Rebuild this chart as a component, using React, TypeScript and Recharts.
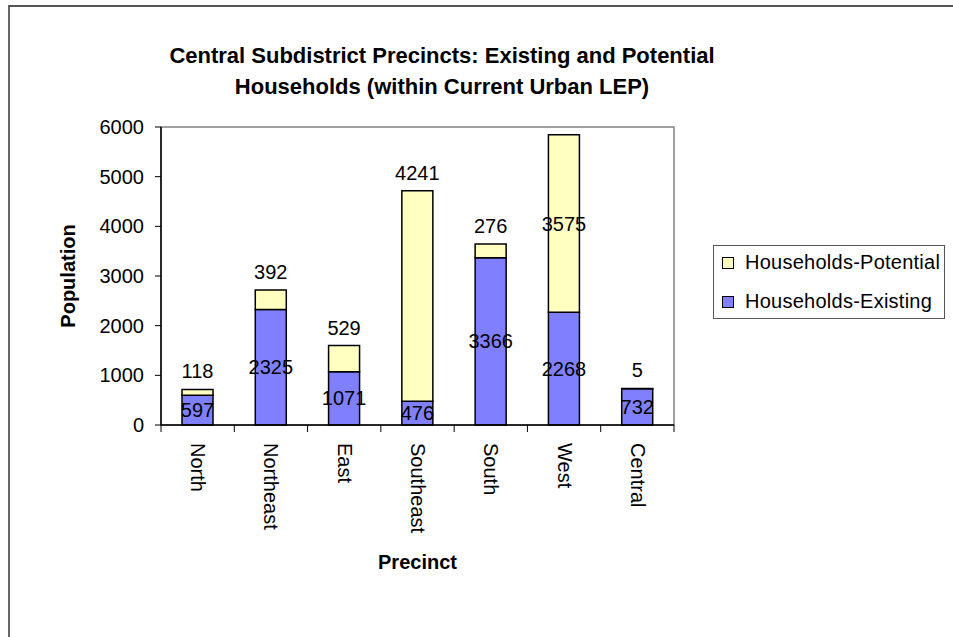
import React from 'react';
import { BarChart, Bar, XAxis, YAxis, Legend, LabelList, ReferenceArea } from 'recharts';

const precincts = ['North', 'Northeast', 'East', 'Southeast', 'South', 'West', 'Central'];
const existing = [597, 2325, 1071, 476, 3366, 2268, 732];
const potential = [118, 392, 529, 4241, 276, 3575, 5];
const yTicks = [0, 1000, 2000, 3000, 4000, 5000, 6000];

const data = precincts.map((name, i) => ({ name, existing: existing[i], potential: potential[i] }));

const FONT = '"Liberation Sans", Arial, sans-serif';
const PLOT_TOP = 127;

// rotated category label plus the boundary tick marks between categories
const CategoryTick = (props: any) => {
    const { x, y, payload, index } = props;
    const half = payload && payload.offset ? payload.offset : 36.65;
    const last = index === precincts.length - 1;
    return (
        <g>
            <line x1={x - half} x2={x - half} y1={y} y2={y + 7} stroke="#000" />
            {last && <line x1={x + half} x2={x + half} y1={y} y2={y + 7} stroke="#000" />}
            <text
                transform={`translate(${x - 6.5},${y + 18}) rotate(90)`}
                textAnchor="start"
                fontSize={20}
                fontFamily={FONT}
                fill="#000"
            >
                {payload.value}
            </text>
        </g>
    );
};

const YTitle = (props: any) => {
    const { viewBox } = props;
    const cx = viewBox.x + 48;
    const cy = viewBox.y + viewBox.height / 2;
    return (
        <text
            transform={`translate(${cx},${cy}) rotate(-90)`}
            textAnchor="middle"
            dy={7}
            fontSize={20}
            fontWeight="bold"
            fontFamily={FONT}
            fill="#000"
        >
            Population
        </text>
    );
};

const XTitle = (props: any) => {
    const { viewBox } = props;
    return (
        <text
            x={viewBox.x + viewBox.width / 2}
            y={viewBox.y + 137}
            dy={7}
            textAnchor="middle"
            fontSize={20}
            fontWeight="bold"
            fontFamily={FONT}
            fill="#000"
        >
            Precinct
        </text>
    );
};

const ExistingLabel = (props: any) => {
    const { x, y, width, height, value } = props;
    return (
        <text x={x + width / 2} y={y + height / 2} dy={7} textAnchor="middle" fontSize={20} fontFamily={FONT} fill="#000">
            {value}
        </text>
    );
};

const PotentialLabel = (props: any) => {
    const { x, y, width, height, value } = props;
    // above the bar when it fits, otherwise in the middle of the segment
    const cy = y - 18 - 10 < PLOT_TOP ? y + height / 2 : y - 18;
    return (
        <text x={x + width / 2} y={cy} dy={7} textAnchor="middle" fontSize={20} fontFamily={FONT} fill="#000">
            {value}
        </text>
    );
};

const LegendBox = (props: any) => {
    const items = [...(props.payload || [])].reverse();
    return (
        <div
            style={{
                width: 232,
                height: 74,
                boxSizing: 'border-box',
                border: '1px solid #555',
                background: '#fff',
                display: 'flex',
                flexDirection: 'column',
                gap: 6,
            }}
        >
            {items.map((item: any) => (
                <div key={item.value} style={{ height: 34, display: 'flex', alignItems: 'center' }}>
                    <span
                        style={{
                            display: 'inline-block',
                            width: 10,
                            height: 10,
                            marginLeft: 8,
                            marginRight: 11,
                            border: '1px solid #000',
                            background: item.color,
                        }}
                    />
                    <span style={{ fontSize: 20, fontFamily: FONT, color: '#000', letterSpacing: 0.25 }}>{item.value}</span>
                </div>
            ))}
        </div>
    );
};

export default function App() {
    return (
        <div style={{ position: 'fixed', left: 0, top: 0, width: 953, height: 637, overflow: 'hidden', background: '#fff' }}>
            <div
                style={{
                    position: 'absolute',
                    left: 0,
                    top: 39.5,
                    width: 884,
                    textAlign: 'center',
                    fontFamily: FONT,
                    fontWeight: 'bold',
                    fontSize: 22,
                    lineHeight: '31px',
                    color: '#000',
                }}
            >
                <div>Central Subdistrict Precincts: Existing and Potential</div>
                <div>Households (within Current Urban LEP)</div>
            </div>
            <div style={{ position: 'absolute', left: 0, top: 0 }}>
                <BarChart width={953} height={637} data={data} margin={{ top: 127, right: 279, bottom: 60, left: 20 }}>
                    <ReferenceArea y1={0} y2={6000} fill="none" stroke="#808080" strokeWidth={1.5} ifOverflow="visible" />
                    <XAxis
                        dataKey="name"
                        height={152}
                        axisLine={{ stroke: '#000', strokeWidth: 1.5 }}
                        tickLine={false}
                        tickSize={0}
                        tickMargin={0}
                        interval={0}
                        tick={<CategoryTick />}
                        label={<XTitle />}
                    />
                    <YAxis
                        width={141}
                        domain={[0, 6000]}
                        ticks={yTicks}
                        interval={0}
                        axisLine={{ stroke: '#000', strokeWidth: 1.5 }}
                        tickLine={{ stroke: '#000' }}
                        tickSize={6}
                        tickMargin={11}
                        tick={{ fontSize: 20, fontFamily: FONT, fill: '#000' }}
                        label={<YTitle />}
                    />
                    <Legend
                        layout="horizontal"
                        verticalAlign="middle"
                        align="center"
                        content={<LegendBox />}
                        wrapperStyle={{ position: 'absolute', left: 713, top: 245, width: 232, height: 74 }}
                    />
                    <Bar dataKey="existing" name="Households-Existing" stackId="a" fill="#8080FF" stroke="#000" strokeWidth={1.5} barSize={31} isAnimationActive={false}>
                        <LabelList dataKey="existing" content={<ExistingLabel />} />
                    </Bar>
                    <Bar dataKey="potential" name="Households-Potential" stackId="a" fill="#FFFFC0" stroke="#000" strokeWidth={1.5} barSize={31} isAnimationActive={false}>
                        <LabelList dataKey="potential" content={<PotentialLabel />} />
                    </Bar>
                </BarChart>
            </div>
            <div
                style={{
                    position: 'absolute',
                    zIndex: 5,
                    pointerEvents: 'none',
                    left: 8,
                    top: 5,
                    width: 960,
                    height: 650,
                    borderTop: '2px solid #555',
                    borderLeft: '2px solid #666',
                }}
            />
        </div>
    );
}
